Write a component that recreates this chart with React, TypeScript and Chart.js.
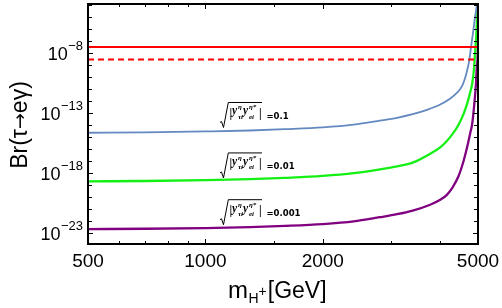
import React, { useEffect, useRef } from "react";
import { Chart, registerables } from "chart.js";

Chart.register(...registerables);

// ---- data ----
const massBlue = [500, 700, 1000, 1300, 1600, 2000, 2400, 2800, 3100, 3400, 3700, 4000, 4200, 4400, 4550, 4650, 4700, 4750, 4800, 4850, 4900, 4950, 4990];
const brBlue = [2.34e-15, 2.51e-15, 3.02e-15, 3.63e-15, 4.68e-15, 6.61e-15, 1.12e-14, 2.4e-14, 4.17e-14, 8.32e-14, 1.91e-13, 5.25e-13, 1.32e-12, 4.47e-12, 1.78e-11, 1.26e-10, 5.01e-10, 2.51e-9, 3.55e-8, 3.98e-7, 5.25e-6, 5.01e-5, 3.16e-4];

const massGreen = [500, 700, 1000, 1300, 1600, 2000, 2400, 2800, 3100, 3400, 3770, 4000, 4160, 4300, 4450, 4590, 4700, 4780, 4830, 4880, 4920, 4950, 4975, 4995];
const brGreen = [2.09e-19, 2.24e-19, 2.63e-19, 3.16e-19, 4.07e-19, 5.89e-19, 1.0e-18, 2.09e-18, 3.72e-18, 7.59e-18, 4.17e-17, 1.41e-16, 4.79e-16, 1.78e-15, 1.0e-14, 8.32e-14, 7.94e-13, 6.31e-12, 2.69e-11, 3.98e-10, 1.7e-8, 3.16e-7, 1.0e-5, 1.58e-4];

const massPurple = [500, 700, 1000, 1300, 1600, 2000, 2400, 2800, 3100, 3400, 3770, 4000, 4160, 4300, 4450, 4590, 4700, 4780, 4830, 4890, 4940, 4970, 4995, 5000];
const brPurple = [2.19e-23, 2.34e-23, 2.69e-23, 3.24e-23, 4.07e-23, 5.75e-23, 9.55e-23, 2.14e-22, 3.8e-22, 7.59e-22, 2.34e-21, 6.03e-21, 1.58e-20, 6.31e-20, 5.01e-19, 1.0e-17, 2.0e-16, 2.51e-15, 1.2e-14, 5.01e-13, 2.69e-11, 1.0e-9, 3.16e-8, 1.0e-4];

const limitMass = [500, 5000];
const limitCurrent = 3.3e-8;
const limitFuture = 3.0e-9;

const xMajorTicks = [500, 1000, 2000, 5000];
const xMinorTicks = [600, 700, 800, 900, 1500, 3000, 4000];
const yLabelExponents = [-8, -13, -18, -23];
const yTickExponents = [-23, -22, -21, -20, -19, -18, -17, -16, -15, -14, -13, -12, -11, -10, -9, -8, -7, -6, -5, -4];

const couplingLabels = ["0.1", "0.01", "0.001"];

// ---- layout / style config ----
const X_MIN = 500;
const X_MAX = 5000;
const Y_MIN = 1.26e-24;
const Y_MAX = 1.26e-4;
const labelAnchorMass = 1090;
const labelAnchorBr = [7.8e-13, 4.9e-17, 6.2e-21];

const COLORS = {
  blue: "rgb(100,137,192)",
  green: "rgb(20,240,20)",
  purple: "rgb(128,0,128)",
  red: "rgb(255,0,0)",
};

function pts(xs: number[], ys: number[]) {
  return xs.map((x, i) => ({ x, y: ys[i] }));
}

function drawCoupling(ctx: CanvasRenderingContext2D, x0: number, yo: number, value: string) {
  ctx.save();
  ctx.strokeStyle = "#000";
  ctx.fillStyle = "#000";
  ctx.lineWidth = 1;
  ctx.beginPath();
  ctx.moveTo(x0, yo + 20);
  ctx.lineTo(x0 + 1.5, yo + 19);
  ctx.lineTo(x0 + 3.5, yo + 25);
  ctx.lineTo(x0 + 8.3, yo);
  ctx.lineTo(x0 + 42, yo);
  ctx.stroke();

  ctx.textBaseline = "alphabetic";
  ctx.textAlign = "left";
  const serif = "'Liberation Serif', 'DejaVu Serif', serif";
  ctx.font = `bold 12px ${serif}`;
  ctx.fillText("|", x0 + 9.5, yo + 14.5);
  ctx.fillText("|", x0 + 39, yo + 14.5);
  ctx.font = `italic bold 11.5px ${serif}`;
  ctx.fillText("y", x0 + 12, yo + 12);
  ctx.fillText("y", x0 + 23, yo + 12);
  ctx.font = `italic bold 7px ${serif}`;
  ctx.fillText("\u03b7", x0 + 18, yo + 7);
  ctx.fillText("\u03c4i", x0 + 18, yo + 16.5);
  ctx.fillText("\u03b7*", x0 + 29, yo + 7);
  ctx.fillText("ei", x0 + 29, yo + 16.5);

  ctx.font = "bold 8.5px 'DejaVu Sans', sans-serif";
  ctx.textBaseline = "middle";
  ctx.fillText("=" + value, x0 + 46.5, yo + 14);
  ctx.restore();
}

const framePlugin = {
  id: "framePlugin",
  afterDatasetsDraw(chart: any) {
    const { ctx, chartArea: a, scales } = chart;
    const xs = scales.x;
    const ys = scales.y;
    ctx.save();

    // frame
    ctx.strokeStyle = "#000";
    ctx.lineWidth = 2;
    ctx.strokeRect(a.left, a.top, a.right - a.left, a.bottom - a.top);

    // x ticks (bottom and top, inward)
    ctx.lineWidth = 1;
    ctx.beginPath();
    const xt = (v: number, len: number) => {
      const px = Math.round(xs.getPixelForValue(v)) + 0.5;
      ctx.moveTo(px, a.bottom);
      ctx.lineTo(px, a.bottom - len);
      ctx.moveTo(px, a.top);
      ctx.lineTo(px, a.top + len);
    };
    xMajorTicks.forEach((v) => xt(v, 5));
    xMinorTicks.forEach((v) => xt(v, 3));
    // y ticks (left and right, inward)
    yTickExponents.forEach((e) => {
      const py = Math.round(ys.getPixelForValue(Math.pow(10, e))) + 0.5;
      const len = yLabelExponents.includes(e) ? 5 : 4;
      ctx.moveTo(a.left, py);
      ctx.lineTo(a.left + len, py);
      ctx.moveTo(a.right, py);
      ctx.lineTo(a.right - len, py);
    });
    ctx.stroke();

    // x tick labels
    ctx.fillStyle = "#000";
    ctx.font = "19px 'Liberation Sans', Arial, sans-serif";
    ctx.textAlign = "center";
    ctx.textBaseline = "middle";
    xMajorTicks.forEach((v) => {
      ctx.fillText(String(v), xs.getPixelForValue(v), a.bottom + 18);
    });

    // y tick labels 10^e
    yLabelExponents.forEach((e) => {
      const py = ys.getPixelForValue(Math.pow(10, e));
      const sup = "\u2212" + String(-e);
      ctx.font = "13px 'Liberation Sans', Arial, sans-serif";
      const ws = ctx.measureText(sup).width;
      const right = a.left - 5;
      ctx.textAlign = "left";
      ctx.textBaseline = "alphabetic";
      ctx.fillText(sup, right - ws, py - 3.5);
      ctx.font = "18px 'Liberation Sans', Arial, sans-serif";
      const wm = ctx.measureText("10").width;
      ctx.fillText("10", right - ws - wm - 0.5, py + 6.5);
    });

    // x axis title: m_H+ [GeV]
    const base = 298;
    let cx = 228;
    ctx.textAlign = "left";
    ctx.textBaseline = "alphabetic";
    ctx.font = "24px 'Liberation Sans', Arial, sans-serif";
    ctx.fillText("m", cx, base);
    cx += ctx.measureText("m").width + 0.5;
    ctx.font = "14px 'Liberation Sans', Arial, sans-serif";
    ctx.fillText("H", cx, base + 5);
    cx += ctx.measureText("H").width;
    ctx.fillText("+", cx, base - 2);
    cx += ctx.measureText("+").width + 1;
    ctx.font = "23px 'Liberation Sans', Arial, sans-serif";
    ctx.fillText("[GeV]", cx, base);

    // y axis title: Br(τ→eγ), drawn in pieces so the arrow stays compact
    ctx.save();
    ctx.translate(27, 125);
    ctx.rotate(-Math.PI / 2);
    ctx.textAlign = "left";
    ctx.textBaseline = "alphabetic";
    const sans = "'Liberation Sans', Arial, sans-serif";
    const parts: [string, string][] = [
      ["Br(\u03c4", `23px ${sans}`],
      ["\u2192", "19px 'DejaVu Sans', sans-serif"],
      ["e\u03b3)", `23px ${sans}`],
    ];
    let total = 0;
    parts.forEach(([t, f]) => {
      ctx.font = f;
      total += ctx.measureText(t).width;
    });
    let px = -total / 2;
    parts.forEach(([t, f]) => {
      ctx.font = f;
      ctx.fillText(t, px, t === "\u2192" ? -1 : 0);
      px += ctx.measureText(t).width;
    });
    ctx.restore();

    // coupling labels
    couplingLabels.forEach((lab, i) => {
      const x0 = xs.getPixelForValue(labelAnchorMass);
      const yo = ys.getPixelForValue(labelAnchorBr[i]);
      drawCoupling(ctx, x0, yo, lab);
    });

    ctx.restore();
  },
};

export default function App() {
  const ref = useRef<HTMLCanvasElement | null>(null);

  useEffect(() => {
    if (!ref.current) return;
    const lineDs = (label: string, data: any[], color: string, width: number, dash: number[] = []) => ({
      label,
      data,
      borderColor: color,
      backgroundColor: color,
      borderWidth: width,
      borderDash: dash,
      pointRadius: 0,
      fill: false,
      cubicInterpolationMode: "monotone" as const,
    });
    const chart = new Chart(ref.current, {
      type: "line",
      data: {
        datasets: [
          lineDs("current limit", pts(limitMass, [limitCurrent, limitCurrent]), COLORS.red, 2),
          lineDs("future limit", pts(limitMass, [limitFuture, limitFuture]), COLORS.red, 2, [6, 4]),
          lineDs("0.1", pts(massBlue, brBlue), COLORS.blue, 1.8),
          lineDs("0.01", pts(massGreen, brGreen), COLORS.green, 2.3),
          lineDs("0.001", pts(massPurple, brPurple), COLORS.purple, 2.3),
        ],
      },
      options: {
        animation: false,
        responsive: false,
        devicePixelRatio: 1,
        layout: { padding: { left: 88, top: 4, right: 24, bottom: 64 } },
        plugins: { legend: { display: false }, tooltip: { enabled: false } },
        scales: {
          x: { type: "logarithmic", min: X_MIN, max: X_MAX, display: false, bounds: "data" },
          y: { type: "logarithmic", min: Y_MIN, max: Y_MAX, display: false, bounds: "data" },
        },
      },
      plugins: [framePlugin],
    });
    return () => chart.destroy();
  }, []);

  return (
    <div style={{ position: "fixed", left: 0, top: 0, width: 502, height: 308, background: "#fff" }}>
      <canvas ref={ref} width={502} height={308} style={{ width: 502, height: 308 }} />
    </div>
  );
}
